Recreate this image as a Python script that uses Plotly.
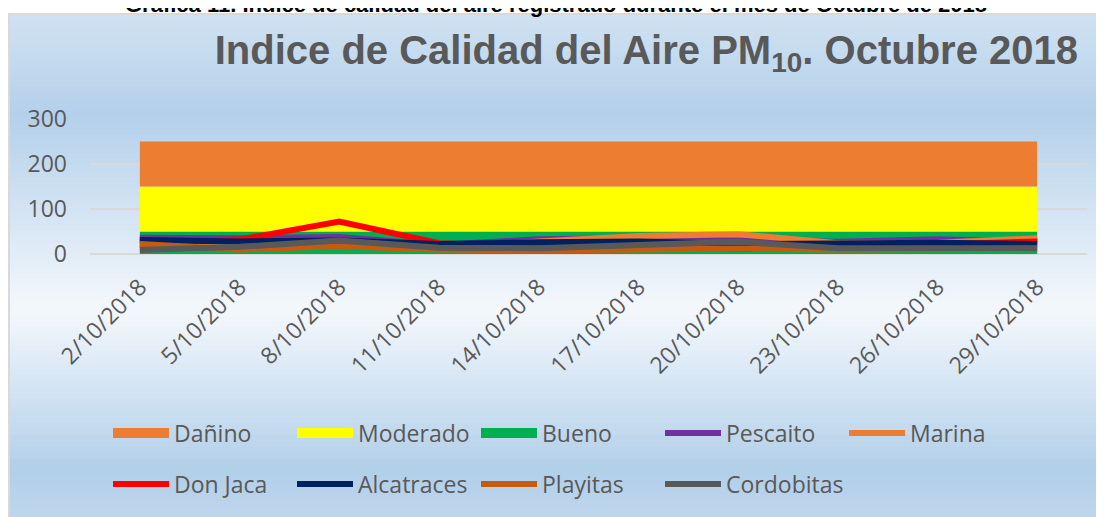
import plotly.graph_objects as go

# ---------------- data ----------------
fechas = ["2/10/2018", "5/10/2018", "8/10/2018", "11/10/2018", "14/10/2018",
          "17/10/2018", "20/10/2018", "23/10/2018", "26/10/2018", "29/10/2018"]

bueno = [50, 50, 50, 50, 50, 50, 50, 50, 50, 50]               # 0-50
moderado = [100, 100, 100, 100, 100, 100, 100, 100, 100, 100]  # 50-150
danino = [100, 100, 100, 100, 100, 100, 100, 100, 100, 100]    # 150-250

pescaito = [36, 35, 38, 20, 33, 35, 30, 27, 33, 27]
marina = [20, 15, 24, 12, 28, 40, 44, 24, 25, 35]
don_jaca = [27, 32, 72, 24, 16, 13, 12, 14, 20, 28]
alcatraces = [31, 28, 30, 22, 26, 28, 22, 24, 25, 22]
playitas = [22, 10, 17, 10, 8, 10, 12, 10, 10, 12]
cordobitas = [9, 16, 30, 14, 13, 20, 27, 13, 13, 13]

# ---------------- geometry helpers (figure pixels; page has an 8px body margin) ----------------
OFF = 8
W, H = 1104 - OFF, 517 - OFF
PX_L, PX_R = 90 - OFF, 1087 - OFF
PY_T, PY_B = 119 - OFF, 254 - OFF


def px2x(px):   # px given in screen coordinates of the reference
    return (px - OFF - PX_L) / (PX_R - PX_L)


def py2y(py):
    return (PY_B - (py - OFF)) / (PY_B - PY_T)


TEXT = "#595959"
fig = go.Figure()

# legend entries for the bands (wide swatches)
band_def = [("Dañino", "#ED7D31", danino), ("Moderado", "#FFFF00", moderado), ("Bueno", "#00B050", bueno)]
for name, col, _ in band_def:
    fig.add_trace(go.Scatter(x=[None], y=[None], mode="lines", name=name, legendgroup=name,
                             line=dict(color=col, width=14), legend="legend", hoverinfo="skip"))

# stacked bands
for name, col, vals in reversed(band_def):
    fig.add_trace(go.Scatter(x=fechas, y=vals, mode="lines", stackgroup="bandas", name=name,
                             legendgroup=name, showlegend=False,
                             line=dict(width=0, color=col), fillcolor=col))

series = [("Pescaito", "#7030A0", pescaito, "legend"),
          ("Marina", "#ED7D31", marina, "legend"),
          ("Don Jaca", "#FF0000", don_jaca, "legend2"),
          ("Alcatraces", "#002060", alcatraces, "legend2"),
          ("Playitas", "#C55A11", playitas, "legend2"),
          ("Cordobitas", "#595959", cordobitas, "legend2")]
for name, col, vals, lg in series:
    fig.add_trace(go.Scatter(x=fechas, y=vals, mode="lines", name=name, legend=lg,
                             line=dict(color=col, width=6)))

# ---------------- background gradient ----------------
FRAME_TOP = 15
stops = [(FRAME_TOP, (208, 226, 242)), (115, (180, 208, 234)), (310, (244, 248, 252)),
         (470, (178, 207, 233)), (517, (190, 214, 237))]


def col_at(py):
    for (a, ca), (b, cb) in zip(stops[:-1], stops[1:]):
        if a <= py <= b:
            t = (py - a) / (b - a)
            return tuple(round(ca[i] + (cb[i] - ca[i]) * t) for i in range(3))
    return stops[-1][1]


shapes = []
step = 6
py = FRAME_TOP
while py < 517:
    c = col_at(py + step / 2)
    shapes.append(dict(type="rect", xref="paper", yref="paper", layer="below",
                       x0=px2x(8), x1=px2x(1110), y0=py2y(py), y1=py2y(min(py + step + 0.8, 520)),
                       line=dict(width=0), fillcolor="rgb(%d,%d,%d)" % c))
    py += step
shapes.append(dict(type="rect", xref="paper", yref="paper", layer="below",
                   x0=px2x(9), x1=px2x(1112), y0=py2y(FRAME_TOP - 1), y1=py2y(525),
                   line=dict(width=2, color="#D9D9D9"), fillcolor="rgba(0,0,0,0)"))

fig.update_layout(
    width=W, height=H,
    margin=dict(l=PX_L, r=W - PX_R, t=PY_T, b=H - PY_B, pad=0),
    paper_bgcolor="white", plot_bgcolor="rgba(0,0,0,0)",
    font=dict(family="Open Sans", color=TEXT),
    shapes=shapes,
    title=dict(text="Indice de Calidad del Aire PM<sub>10</sub>. Octubre 2018",
               font=dict(family="Liberation Sans", size=40, color=TEXT, weight="bold"),
               xref="container", yref="container", x=(1078 - OFF) / W, xanchor="right",
               y=1 - (50 - OFF) / H, yanchor="middle"),
    annotations=[dict(text="<b>Gráfica 11. Índice de calidad del aire registrado durante el mes de Octubre de 2018</b>",
                      xref="paper", yref="paper", x=px2x(556), y=py2y(4), xanchor="center", yanchor="middle",
                      showarrow=False, font=dict(family="Liberation Sans", size=22, color="black"))],
    xaxis=dict(type="category", range=[-0.5, 9.5], tickangle=-45, showgrid=False, zeroline=False,
               showline=False, ticks="", tickfont=dict(family="Open Sans", size=23, color=TEXT),
               ticklabelstandoff=14, fixedrange=True),
    yaxis=dict(range=[0, 300], tickvals=[0, 100, 200, 300], showgrid=True, gridcolor="#D9D9D9",
               gridwidth=2, zeroline=True, zerolinecolor="#D9D9D9", zerolinewidth=2,
               showline=False, ticks="", tickfont=dict(family="Open Sans", size=23, color=TEXT),
               ticklabelstandoff=22, fixedrange=True),
    legend=dict(orientation="h", x=px2x(108), xanchor="left", y=py2y(433), yanchor="middle",
                itemwidth=56, entrywidth=113, entrywidthmode="pixels",
                font=dict(family="Open Sans", size=23, color=TEXT), bgcolor="rgba(0,0,0,0)",
                traceorder="normal"),
    legend2=dict(orientation="h", x=px2x(108), xanchor="left", y=py2y(484), yanchor="middle",
                 itemwidth=56, entrywidth=113, entrywidthmode="pixels",
                 font=dict(family="Open Sans", size=23, color=TEXT), bgcolor="rgba(0,0,0,0)",
                 traceorder="normal"),
    hovermode=False,
)

fig.write_html("out.html")
